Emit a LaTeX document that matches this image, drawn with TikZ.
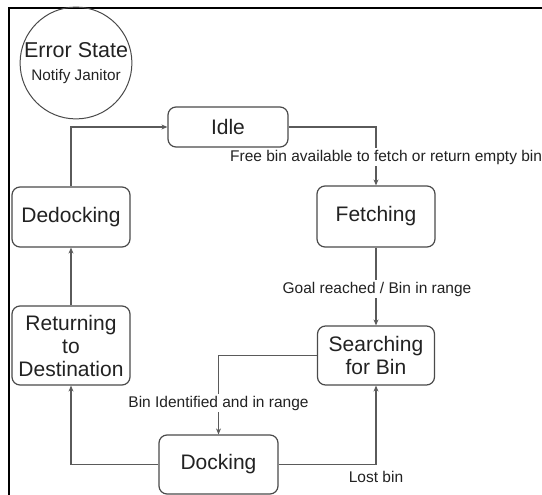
\documentclass[tikz,border=0pt]{standalone}
\usepackage{fontspec}
\setmainfont{Liberation Sans}
\usetikzlibrary{arrows.meta}
\definecolor{boxline}{HTML}{4A4A4A}
\definecolor{edgeline}{HTML}{5A5A5A}
\definecolor{txt}{HTML}{222222}
\tikzset{
  state/.style={draw=boxline, line width=1.2pt, rounded corners=8pt, fill=white,
    align=center, text=txt, inner sep=0pt, font=\fontsize{21}{24}\selectfont},
  edge/.style={draw=edgeline, line width=1.1pt, -{Stealth[length=6pt,width=5pt]}},
  elabel/.style={fill=white, text=txt, inner sep=2pt, font=\fontsize{15.5}{18}\selectfont},
}
\begin{document}
\begin{tikzpicture}[x=1pt,y=-1pt]
\useasboundingbox (0,0) rectangle (542,495);
% frame
\coordinate (fa) at (9,495);
\coordinate (fb) at (9,8);
\coordinate (fc) at (542,8);
\draw[black, line width=2pt] (fa) -- (fb) -- (fc);
% error state
\node[draw=boxline, line width=1pt, circle, minimum size=106pt, inner sep=0pt, align=center, text=txt,
  font=\fontsize{15.3}{23}\selectfont]
  (err) at (76,63) {{\fontsize{21.5}{23}\selectfont Error State}\\Notify Janitor};
% states
\node[state, minimum width=120pt, minimum height=40pt] (idle) at (228,127) {Idle};
\node[state, minimum width=118pt, minimum height=60pt] (dedock) at (71,217) {Dedocking};
\node[state, minimum width=118pt, minimum height=61pt] (fetch) at (376,216.5) {Fetching};
\node[state, minimum width=118pt, minimum height=79pt] (ret) at (71,345.5) {Returning\\[-1pt]to\\[-1pt]Destination};
\node[state, minimum width=117pt, minimum height=59pt] (search) at (376,355.5) {Searching\\[-1pt]for Bin};
\node[state, minimum width=119pt, minimum height=59pt] (dock) at (218.5,464.5) {Docking};
% edges
\draw[edge] (dedock.north) |- (idle.west);
\draw[edge] (idle.east) -| (fetch.north);
\draw[edge] (fetch.south) -- (search.north);
\draw[edge] (search.west) -| (dock.north);
\draw[edge] (dock.west) -| (ret.south);
\draw[edge] (dock.east) -| (search.south);
\draw[edge] (ret.north) -- (dedock.south);
% labels
\node[elabel, anchor=west] (l1) at (228,157) {Free bin available to fetch or return empty bin};
\node[elabel] (l2) at (377,289) {Goal reached / Bin in range};
\node[elabel] (l3) at (218.5,403) {Bin Identified and in range};
\node[elabel] (l4) at (376,477) {Lost bin};
\end{tikzpicture}
\end{document}
